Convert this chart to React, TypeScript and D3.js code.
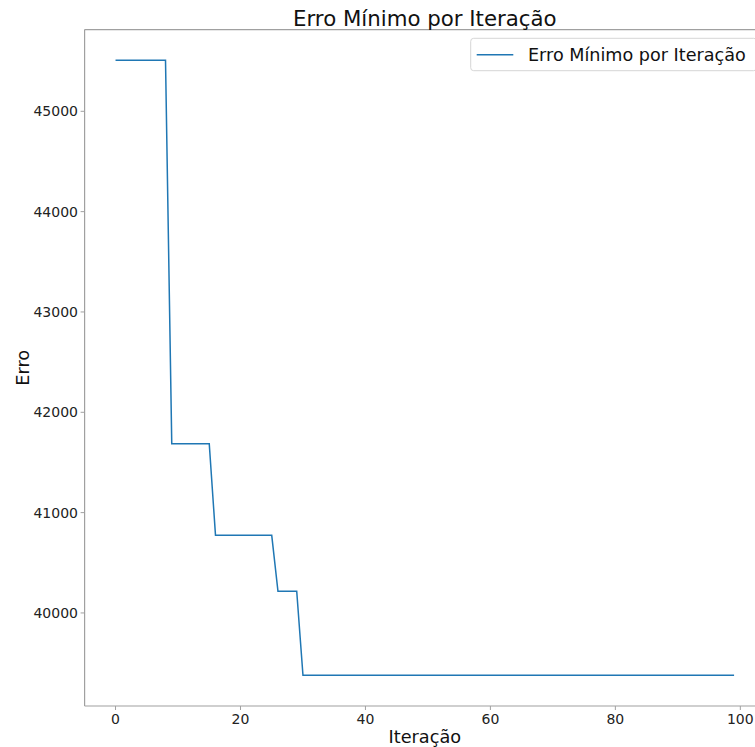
import React from "react";
import * as d3 from "d3";

const iterations: number[] = Array.from({ length: 100 }, (_, i) => i);
const minError: number[] = [
  45508, 45508, 45508, 45508, 45508, 45508, 45508, 45508, 45508,
  41687, 41687, 41687, 41687, 41687, 41687, 41687,
  40774, 40774, 40774, 40774, 40774, 40774, 40774, 40774, 40774, 40774,
  40216, 40216, 40216, 40216,
  39379, 39379, 39379, 39379, 39379, 39379, 39379, 39379, 39379, 39379,
  39379, 39379, 39379, 39379, 39379, 39379, 39379, 39379, 39379, 39379,
  39379, 39379, 39379, 39379, 39379, 39379, 39379, 39379, 39379, 39379,
  39379, 39379, 39379, 39379, 39379, 39379, 39379, 39379, 39379, 39379,
  39379, 39379, 39379, 39379, 39379, 39379, 39379, 39379, 39379, 39379,
  39379, 39379, 39379, 39379, 39379, 39379, 39379, 39379, 39379, 39379,
  39379, 39379, 39379, 39379, 39379, 39379, 39379, 39379, 39379, 39379,
];
const xTicks: number[] = [0, 20, 40, 60, 80, 100];
const yTicks: number[] = [40000, 41000, 42000, 43000, 44000, 45000];

const title = "Erro Mínimo por Iteração";
const xLabel = "Iteração";
const yLabel = "Erro";
const legendLabel = "Erro Mínimo por Iteração";

const W = 755;
const H = 747;
const left = 84.6;
const right = 765;
const top = 29.6;
const bottom = 706;
const font = "DejaVu Sans, sans-serif";
const lineColor = "#1f77b4";
const spineColor = "#a0a0a0";

export default function App() {
  const xMin = d3.min(iterations)!;
  const xMax = d3.max(iterations)!;
  const xPad = (xMax - xMin) * 0.05;
  const yMin = d3.min(minError)!;
  const yMax = d3.max(minError)!;
  const yPad = (yMax - yMin) * 0.05;

  const x = d3.scaleLinear().domain([xMin - xPad, xMax + xPad]).range([left, right]);
  const y = d3.scaleLinear().domain([yMin - yPad, yMax + yPad]).range([bottom, top]);

  const line = d3
    .line<number>()
    .x((_, i) => x(iterations[i]))
    .y((d) => y(d));

  return (
    <svg
      width={W}
      height={H}
      style={{ position: "absolute", left: 0, top: 0, background: "#fff" }}
      fontFamily={font}
    >
      <rect x={0} y={0} width={W} height={H} fill="#fff" />
      {/* spines */}
      <line x1={left} x2={left} y1={top} y2={bottom} stroke={spineColor} strokeWidth={1.2} />
      <line x1={left} x2={right} y1={top} y2={top} stroke={spineColor} strokeWidth={1.2} />
      <line x1={left} x2={right} y1={bottom} y2={bottom} stroke={spineColor} strokeWidth={1.2} />
      <line x1={right} x2={right} y1={top} y2={bottom} stroke={spineColor} strokeWidth={1.2} />

      {/* x ticks */}
      {xTicks.map((t) => (
        <g key={`x${t}`}>
          <line x1={x(t)} x2={x(t)} y1={bottom} y2={bottom + 4} stroke={spineColor} strokeWidth={1} />
          <text x={x(t)} y={723.5} textAnchor="middle" fontSize={14} fill="#222">
            {t}
          </text>
        </g>
      ))}
      {/* y ticks */}
      {yTicks.map((t) => (
        <g key={`y${t}`}>
          <line x1={left - 4} x2={left} y1={y(t)} y2={y(t)} stroke={spineColor} strokeWidth={1} />
          <text x={78} y={y(t) + 5} textAnchor="end" fontSize={14} fill="#222">
            {t}
          </text>
        </g>
      ))}

      <path d={line(minError) || ""} fill="none" stroke={lineColor} strokeWidth={1.5} />

      {/* title & labels */}
      <text x={(left + right) / 2} y={25.5} textAnchor="middle" fontSize={21.3} fill="#111">
        {title}
      </text>
      <text x={(left + right) / 2} y={743} textAnchor="middle" fontSize={17.7} fill="#111">
        {xLabel}
      </text>
      <text
        transform={`translate(29, ${(top + bottom) / 2}) rotate(-90)`}
        textAnchor="middle"
        fontSize={17.7}
        fill="#111"
      >
        {yLabel}
      </text>

      {/* legend */}
      <rect x={470.7} y={38.3} width={286} height={32.4} rx={3} fill="#fff" fillOpacity={0.8} stroke="#d6d6d6" strokeWidth={1} />
      <line x1={476.7} x2={513.3} y1={54.7} y2={54.7} stroke={lineColor} strokeWidth={1.5} />
      <text x={528} y={61} fontSize={17.6} fill="#111">
        {legendLabel}
      </text>
    </svg>
  );
}
